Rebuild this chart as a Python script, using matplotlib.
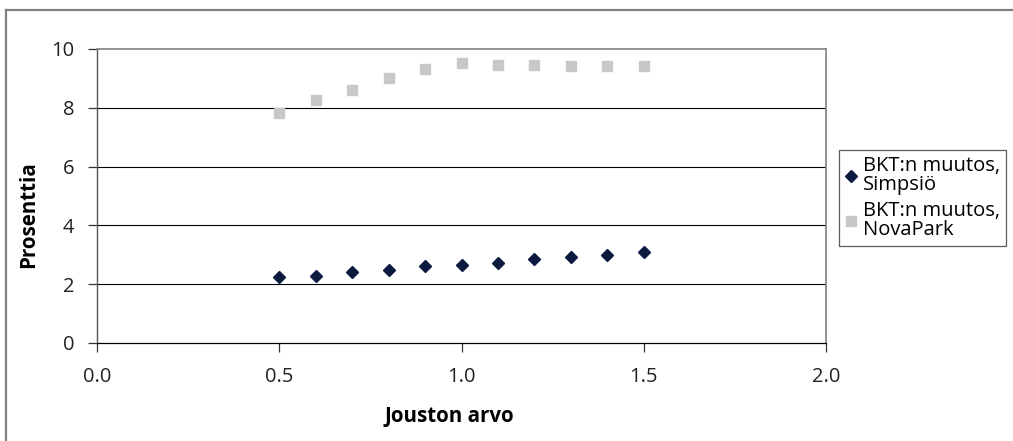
import matplotlib
matplotlib.use("Agg")
import matplotlib.pyplot as plt
from matplotlib.lines import Line2D

# Data
jousto = [0.5, 0.6, 0.7, 0.8, 0.9, 1.0, 1.1, 1.2, 1.3, 1.4, 1.5]
bkt_simpsio = [2.24, 2.28, 2.41, 2.48, 2.61, 2.66, 2.73, 2.86, 2.92, 2.98, 3.09]
bkt_novapark = [7.82, 8.27, 8.62, 9.00, 9.32, 9.53, 9.47, 9.47, 9.42, 9.42, 9.42]

NAVY = "#0c1a40"
LIGHT = "#c8c8c8"
GREY = "#808080"

plt.rcParams.update({
    "font.family": ["Open Sans", "DejaVu Sans"],
    "font.size": 14.5,
})

fig = plt.figure(figsize=(10.13, 4.41), dpi=100)
ax = fig.add_axes([97 / 1013, 1 - 343 / 441, (826 - 97) / 1013, (343 - 49) / 441])

ax.plot(jousto, bkt_simpsio, linestyle="none", marker="D", markersize=6,
        color=NAVY, markeredgecolor=NAVY, label="BKT:n muutos,\nSimpsiö", zorder=3)
ax.plot(jousto, bkt_novapark, linestyle="none", marker="s", markersize=7.6,
        color=LIGHT, markeredgecolor=LIGHT, label="BKT:n muutos,\nNovaPark", zorder=3)

ax.set_xlim(0, 2.0)
ax.set_ylim(0, 10)
ax.set_xticks([0.0, 0.5, 1.0, 1.5, 2.0])
ax.set_xticklabels(["0.0", "0.5", "1.0", "1.5", "2.0"])
ax.set_yticks([0, 2, 4, 6, 8, 10])

for y in [2, 4, 6, 8]:
    ax.axhline(y, color="black", linewidth=0.8, zorder=1)

ax.spines["bottom"].set_color("black")
ax.spines["bottom"].set_linewidth(0.9)
ax.spines["left"].set_color("#555555")
ax.spines["left"].set_linewidth(1.0)
ax.spines["top"].set_color(GREY)
ax.spines["top"].set_linewidth(1.2)
ax.spines["right"].set_color(GREY)
ax.spines["right"].set_linewidth(1.2)

ax.tick_params(axis="y", direction="out", length=6.5, width=0.9, pad=10,
               color="#333333", labelcolor="#222222", labelsize=14.5)
ax.tick_params(axis="x", direction="out", length=6.5, width=0.9, pad=11,
               color="#333333", labelcolor="#222222", labelsize=14.5)

ax.set_xlabel("Jouston arvo", fontweight="bold", fontsize=14.8, va="top")
ax.xaxis.set_label_coords((449 - 97) / 729, (343 - 406) / 294)
ax.set_ylabel("Prosenttia", fontweight="bold", fontsize=14.8)
ax.yaxis.set_label_coords((39 - 97) / 729, (343 - 215) / 294)

leg = ax.legend(loc="center left", bbox_to_anchor=(839 / 1013, 1 - 198 / 441),
                bbox_transform=fig.transFigure, frameon=True, fancybox=False,
                edgecolor="#333333", handlelength=0.55, handletextpad=0.35,
                borderpad=0.3, labelspacing=0.3, fontsize=14.5, borderaxespad=0)
leg.get_frame().set_linewidth(0.9)
for t in leg.get_texts():
    t.set_linespacing(0.9)

# Outer chart border (only left and top edges visible)
fig.add_artist(Line2D([6 / 1013, 6 / 1013], [0, 1 - 10 / 441],
                      transform=fig.transFigure, color=GREY, linewidth=1.6))
fig.add_artist(Line2D([6 / 1013, 1], [1 - 10 / 441, 1 - 10 / 441],
                      transform=fig.transFigure, color=GREY, linewidth=1.6))

fig.savefig("out.png", dpi=100, facecolor="white")
